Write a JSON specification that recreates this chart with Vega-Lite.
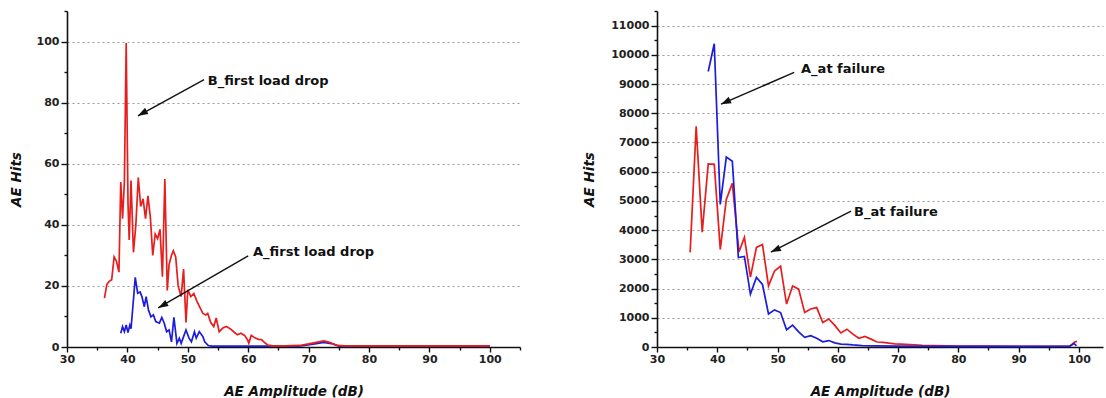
{
  "$schema": "https://vega.github.io/schema/vega-lite/v6.json",
  "background": "white",
  "padding": {"left": 9, "top": 5, "right": 2, "bottom": 0},
  "spacing": 61,
  "config": {
    "view": {"stroke": null},
    "axis": {
      "domainColor": "#111", "domainWidth": 1.6,
      "tickColor": "#111", "tickWidth": 1.4,
      "labelFont": "DejaVu Sans", "labelFontSize": 11, "labelFontWeight": "bold", "labelColor": "#222",
      "titleFont": "DejaVu Sans", "titleFontSize": 13.5, "titleFontWeight": "bold", "titleFontStyle": "italic", "titleColor": "#111",
      "gridColor": "#999", "gridDash": [2, 3], "gridWidth": 1,
      "labelFlush": false, "labelOverlap": false
    }
  },
  "datasets": {
    "leftA": [
      {"amp": 38.9, "hits": 4.5}, {"amp": 39.2, "hits": 6.7}, {"amp": 39.5, "hits": 5}, {"amp": 39.8, "hits": 7.2},
      {"amp": 40.1, "hits": 4.7}, {"amp": 40.4, "hits": 7.2}, {"amp": 40.6, "hits": 6}, {"amp": 40.9, "hits": 13},
      {"amp": 41.3, "hits": 22.8}, {"amp": 41.7, "hits": 17.6}, {"amp": 42.1, "hits": 18}, {"amp": 42.4, "hits": 16.5},
      {"amp": 42.8, "hits": 13.2}, {"amp": 43.1, "hits": 16.5}, {"amp": 43.5, "hits": 12}, {"amp": 43.9, "hits": 9.9},
      {"amp": 44.3, "hits": 10.5}, {"amp": 44.7, "hits": 8.3}, {"amp": 45.3, "hits": 7.8}, {"amp": 45.7, "hits": 9.7},
      {"amp": 46.1, "hits": 7.8}, {"amp": 46.5, "hits": 5}, {"amp": 46.9, "hits": 5.6}, {"amp": 47.3, "hits": 1.7},
      {"amp": 47.7, "hits": 9.7}, {"amp": 48.2, "hits": 1.2}, {"amp": 48.6, "hits": 2.9}, {"amp": 48.9, "hits": 1.2},
      {"amp": 49.3, "hits": 3.4}, {"amp": 49.7, "hits": 5.6}, {"amp": 50.2, "hits": 2.9}, {"amp": 50.6, "hits": 1.7},
      {"amp": 51.1, "hits": 5}, {"amp": 51.4, "hits": 2.9}, {"amp": 51.9, "hits": 5}, {"amp": 52.5, "hits": 3.4},
      {"amp": 52.8, "hits": 1.7}, {"amp": 53.4, "hits": 0.5}, {"amp": 54, "hits": 0.3}, {"amp": 58, "hits": 0.3},
      {"amp": 63, "hits": 0.3}, {"amp": 68.5, "hits": 0.3}, {"amp": 71, "hits": 1}, {"amp": 72.5, "hits": 1.5},
      {"amp": 74, "hits": 1}, {"amp": 75, "hits": 0.3}, {"amp": 80, "hits": 0.3}, {"amp": 90, "hits": 0.3}, {"amp": 100, "hits": 0.3}
    ],
    "leftB": [
      {"amp": 36.2, "hits": 16}, {"amp": 36.6, "hits": 20.5}, {"amp": 37.0, "hits": 21.5}, {"amp": 37.4, "hits": 22},
      {"amp": 37.8, "hits": 29.5}, {"amp": 38.2, "hits": 28}, {"amp": 38.6, "hits": 24.5}, {"amp": 38.9, "hits": 54},
      {"amp": 39.2, "hits": 42}, {"amp": 39.5, "hits": 54}, {"amp": 39.8, "hits": 99.5}, {"amp": 40.1, "hits": 47},
      {"amp": 40.3, "hits": 35}, {"amp": 40.6, "hits": 54.5}, {"amp": 41.0, "hits": 31}, {"amp": 41.4, "hits": 40},
      {"amp": 41.8, "hits": 55.5}, {"amp": 42.2, "hits": 46}, {"amp": 42.6, "hits": 48.5}, {"amp": 43.0, "hits": 42},
      {"amp": 43.4, "hits": 49.5}, {"amp": 43.8, "hits": 42.5}, {"amp": 44.2, "hits": 30}, {"amp": 44.6, "hits": 37},
      {"amp": 45.0, "hits": 35.5}, {"amp": 45.4, "hits": 38.5}, {"amp": 45.8, "hits": 23}, {"amp": 46.2, "hits": 55},
      {"amp": 46.6, "hits": 18.5}, {"amp": 46.9, "hits": 27}, {"amp": 47.3, "hits": 30}, {"amp": 47.6, "hits": 31.5},
      {"amp": 48.0, "hits": 29.5}, {"amp": 48.4, "hits": 20}, {"amp": 48.9, "hits": 16.5}, {"amp": 49.3, "hits": 25.5},
      {"amp": 49.7, "hits": 8}, {"amp": 50.0, "hits": 18.7}, {"amp": 50.5, "hits": 16.5}, {"amp": 51.0, "hits": 17.5},
      {"amp": 51.5, "hits": 15}, {"amp": 52.0, "hits": 13}, {"amp": 52.5, "hits": 11}, {"amp": 53.0, "hits": 10.5},
      {"amp": 53.3, "hits": 11}, {"amp": 53.8, "hits": 8}, {"amp": 54.3, "hits": 6.7}, {"amp": 54.7, "hits": 9.5},
      {"amp": 55.2, "hits": 5}, {"amp": 55.8, "hits": 6.2}, {"amp": 56.4, "hits": 6.7}, {"amp": 57.0, "hits": 6},
      {"amp": 57.6, "hits": 5}, {"amp": 58.2, "hits": 4}, {"amp": 58.8, "hits": 4.5}, {"amp": 59.4, "hits": 3.8},
      {"amp": 59.9, "hits": 2.3}, {"amp": 60.1, "hits": 1.2}, {"amp": 60.5, "hits": 3.8}, {"amp": 61.1, "hits": 3},
      {"amp": 61.7, "hits": 2.5}, {"amp": 62.2, "hits": 2.4}, {"amp": 62.8, "hits": 1.3}, {"amp": 63.3, "hits": 0.6},
      {"amp": 64, "hits": 0.4}, {"amp": 66, "hits": 0.4}, {"amp": 68.5, "hits": 0.5}, {"amp": 70, "hits": 1},
      {"amp": 71.5, "hits": 1.6}, {"amp": 72.5, "hits": 2}, {"amp": 73.5, "hits": 1.5}, {"amp": 74.7, "hits": 0.5},
      {"amp": 76, "hits": 0.4}, {"amp": 80, "hits": 0.4}, {"amp": 90, "hits": 0.4}, {"amp": 100, "hits": 0.4}
    ],
    "rightA": [
      {"amp": 38.5, "hits": 9430}, {"amp": 39.5, "hits": 10380}, {"amp": 40.5, "hits": 4880}, {"amp": 41.5, "hits": 6500},
      {"amp": 42.5, "hits": 6360}, {"amp": 43.5, "hits": 3060}, {"amp": 44.5, "hits": 3100}, {"amp": 45.5, "hits": 1810},
      {"amp": 46.5, "hits": 2380}, {"amp": 47.5, "hits": 2140}, {"amp": 48.5, "hits": 1130}, {"amp": 49.5, "hits": 1270},
      {"amp": 50.5, "hits": 1180}, {"amp": 51.5, "hits": 590}, {"amp": 52.5, "hits": 750}, {"amp": 53.5, "hits": 520},
      {"amp": 54.5, "hits": 330}, {"amp": 55.5, "hits": 390}, {"amp": 56.5, "hits": 300}, {"amp": 57.5, "hits": 180},
      {"amp": 58.5, "hits": 220}, {"amp": 59.5, "hits": 140}, {"amp": 60.5, "hits": 100}, {"amp": 61.5, "hits": 90},
      {"amp": 62.5, "hits": 70}, {"amp": 64, "hits": 50}, {"amp": 66, "hits": 40}, {"amp": 70, "hits": 30},
      {"amp": 75, "hits": 25}, {"amp": 80, "hits": 20}, {"amp": 90, "hits": 20}, {"amp": 98.5, "hits": 25},
      {"amp": 99.2, "hits": 120}, {"amp": 99.6, "hits": 40}
    ],
    "rightB": [
      {"amp": 35.5, "hits": 3240}, {"amp": 36.5, "hits": 7550}, {"amp": 37.5, "hits": 3930}, {"amp": 38.5, "hits": 6270},
      {"amp": 39.5, "hits": 6250}, {"amp": 40.5, "hits": 3340}, {"amp": 41.5, "hits": 5050}, {"amp": 42.5, "hits": 5600},
      {"amp": 43.6, "hits": 3250}, {"amp": 44.5, "hits": 3750}, {"amp": 45.5, "hits": 2390}, {"amp": 46.5, "hits": 3410},
      {"amp": 47.5, "hits": 3510}, {"amp": 48.5, "hits": 2090}, {"amp": 49.5, "hits": 2600}, {"amp": 50.5, "hits": 2770},
      {"amp": 51.5, "hits": 1470}, {"amp": 52.5, "hits": 2090}, {"amp": 53.5, "hits": 1980}, {"amp": 54.5, "hits": 1180},
      {"amp": 55.5, "hits": 1300}, {"amp": 56.5, "hits": 1350}, {"amp": 57.5, "hits": 840}, {"amp": 58.5, "hits": 960},
      {"amp": 59.5, "hits": 740}, {"amp": 60.5, "hits": 480}, {"amp": 61.5, "hits": 610}, {"amp": 62.5, "hits": 440},
      {"amp": 63.5, "hits": 300}, {"amp": 64.5, "hits": 360}, {"amp": 65.5, "hits": 270}, {"amp": 66.5, "hits": 170},
      {"amp": 67.5, "hits": 160}, {"amp": 68.5, "hits": 130}, {"amp": 69.5, "hits": 110}, {"amp": 70.5, "hits": 100},
      {"amp": 72, "hits": 80}, {"amp": 74, "hits": 60}, {"amp": 76, "hits": 50}, {"amp": 78, "hits": 40},
      {"amp": 80, "hits": 35}, {"amp": 85, "hits": 30}, {"amp": 90, "hits": 25}, {"amp": 95, "hits": 25},
      {"amp": 98.5, "hits": 30}, {"amp": 99.3, "hits": 170}, {"amp": 99.7, "hits": 190}
    ],
    "arrowsLeft": [
      {"amp": 41.75, "hits": 75.7, "amp2": 52.7, "hits2": 87.5},
      {"amp": 45.1, "hits": 12.8, "amp2": 60.0, "hits2": 29.8}
    ],
    "labelsLeft": [
      {"label": "B_first load drop", "amp": 53.3, "hits": 87.2},
      {"label": "A_first load drop", "amp": 60.8, "hits": 31.1}
    ],
    "arrowsRight": [
      {"amp": 40.63, "hits": 8310, "amp2": 52.76, "hits2": 9400},
      {"amp": 48.9, "hits": 3250, "amp2": 62.2, "hits2": 4650}
    ],
    "labelsRight": [
      {"label": "A_at failure", "amp": 53.9, "hits": 9500},
      {"label": "B_at failure", "amp": 62.7, "hits": 4615}
    ]
  },
  "hconcat": [
    {
      "width": 453,
      "height": 336,
      "encoding": {
        "x": {"field": "amp", "type": "quantitative", "scale": {"domain": [30, 105], "nice": false, "zero": false},
          "axis": {"title": "AE Amplitude (dB)", "values": [30, 35, 40, 45, 50, 55, 60, 65, 70, 75, 80, 85, 90, 95, 100, 105],
            "labelExpr": "datum.value % 10 === 0 ? datum.label : ''",
            "tickSize": {"condition": {"test": "datum.value % 10 === 0", "value": 5}, "value": 3},
            "labelPadding": 1, "titlePadding": 20, "grid": false}},
        "y": {"field": "hits", "type": "quantitative", "scale": {"domain": [0, 110], "nice": false},
          "axis": {"title": "AE Hits", "values": [0, 10, 20, 30, 40, 50, 60, 70, 80, 90, 100, 110],
            "labelExpr": "datum.value % 20 === 0 ? datum.label : ''",
            "tickSize": {"condition": {"test": "datum.value % 20 === 0", "value": 6}, "value": 3},
            "labelPadding": 2, "titlePadding": 13, "grid": true,
            "gridOpacity": {"condition": {"test": "datum.value % 20 === 0 && datum.value > 0", "value": 1}, "value": 0}}}
      },
      "layer": [
        {"data": {"name": "leftA"}, "mark": {"type": "line", "color": "#1c1cdc", "strokeWidth": 1.7}},
        {"data": {"name": "leftB"}, "mark": {"type": "line", "color": "#e61e1e", "strokeWidth": 1.7}},
        {
          "data": {"name": "arrowsLeft"},
          "mark": {"type": "rule", "color": "#111", "strokeWidth": 1.4},
          "encoding": {"x2": {"field": "amp2"}, "y2": {"field": "hits2"}}
        },
        {
          "data": {"name": "arrowsLeft"},
          "mark": {"type": "point", "shape": "M0,0 L-0.35,1 L0.35,1 Z", "filled": true, "color": "#111", "opacity": 1, "size": 400, "angle": 241}
        },
        {
          "data": {"name": "labelsLeft"},
          "mark": {"type": "text", "align": "left", "baseline": "middle", "font": "DejaVu Sans", "fontWeight": "bold", "fontSize": 13, "color": "#111"},
          "encoding": {"text": {"field": "label"}}
        }
      ]
    },
    {
      "width": 446,
      "height": 336,
      "encoding": {
        "x": {"field": "amp", "type": "quantitative", "scale": {"domain": [30, 104], "nice": false, "zero": false},
          "axis": {"title": "AE Amplitude (dB)", "values": [30, 35, 40, 45, 50, 55, 60, 65, 70, 75, 80, 85, 90, 95, 100],
            "labelExpr": "datum.value % 10 === 0 ? datum.label : ''",
            "tickSize": {"condition": {"test": "datum.value % 10 === 0", "value": 5}, "value": 3},
            "labelPadding": 1, "titlePadding": 20, "grid": false}},
        "y": {"field": "hits", "type": "quantitative", "scale": {"domain": [0, 11500], "nice": false},
          "axis": {"title": "AE Hits",
            "values": [0, 500, 1000, 1500, 2000, 2500, 3000, 3500, 4000, 4500, 5000, 5500, 6000, 6500, 7000, 7500, 8000, 8500, 9000, 9500, 10000, 10500, 11000, 11500],
            "labelExpr": "datum.value % 1000 === 0 ? format(datum.value, 'd') : ''",
            "tickSize": {"condition": {"test": "datum.value % 1000 === 0", "value": 6}, "value": 3},
            "labelPadding": 2, "titlePadding": 14, "grid": true,
            "gridOpacity": {"condition": {"test": "datum.value % 1000 === 0 && datum.value > 0", "value": 1}, "value": 0}}}
      },
      "layer": [
        {"data": {"name": "rightB"}, "mark": {"type": "line", "color": "#e61e1e", "strokeWidth": 1.7}},
        {"data": {"name": "rightA"}, "mark": {"type": "line", "color": "#1c1cdc", "strokeWidth": 1.7}},
        {
          "data": {"name": "arrowsRight"},
          "mark": {"type": "rule", "color": "#111", "strokeWidth": 1.4},
          "encoding": {"x2": {"field": "amp2"}, "y2": {"field": "hits2"}}
        },
        {
          "data": {"name": "arrowsRight"},
          "mark": {"type": "point", "shape": "M0,0 L-0.35,1 L0.35,1 Z", "filled": true, "color": "#111", "opacity": 1, "size": 400, "angle": 245}
        },
        {
          "data": {"name": "labelsRight"},
          "mark": {"type": "text", "align": "left", "baseline": "middle", "font": "DejaVu Sans", "fontWeight": "bold", "fontSize": 13, "color": "#111"},
          "encoding": {"text": {"field": "label"}}
        }
      ]
    }
  ]
}
